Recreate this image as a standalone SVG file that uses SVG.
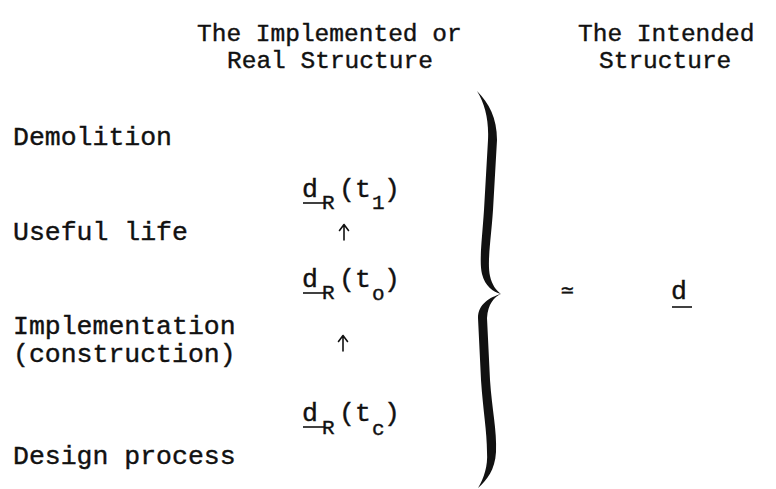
<svg xmlns="http://www.w3.org/2000/svg" width="776" height="489" viewBox="0 0 776 489">
<style>
  text { font-family: "Liberation Mono", "Courier New", monospace; fill: #111; stroke: #111; stroke-width: 0.4; }
  .head { font-size: 24.5px; }
  .body { font-size: 26.5px; }
  .sub { font-size: 21px; }
  .ul { stroke: #111; stroke-width: 1.6; fill: none; }
  .arrow { stroke: #111; stroke-width: 1.6; fill: none; stroke-linecap: round; stroke-linejoin: round; }
</style>
<rect width="776" height="489" fill="#fff"/>

<g id="heading-real">
  <text class="head" x="197" y="41">The Implemented or</text>
  <text class="head" x="227" y="68">Real Structure</text>
</g>
<g id="heading-intended">
  <text class="head" x="578" y="41">The Intended</text>
  <text class="head" x="599" y="68">Structure</text>
</g>

<g id="label-demolition"><text class="body" x="13" y="145">Demolition</text></g>
<g id="label-useful-life"><text class="body" x="13" y="240">Useful life</text></g>
<g id="label-implementation">
  <text class="body" x="13" y="334">Implementation</text>
  <text class="body" x="13" y="362">(construction)</text>
</g>
<g id="label-design"><text class="body" x="13" y="464">Design process</text></g>

<g id="node-dR-t1">
  <text class="body" x="302" y="197">d</text>
  <text class="sub" x="322" y="209">R</text>
  <text class="body" x="339" y="197">(t</text>
  <text class="sub" x="372" y="209">1</text>
  <text class="body" x="384" y="197">)</text>
  <line class="ul" x1="303" y1="203" x2="324" y2="203"/>
</g>
<g id="node-dR-to">
  <text class="body" x="302" y="287">d</text>
  <text class="sub" x="322" y="299">R</text>
  <text class="body" x="339" y="287">(t</text>
  <text class="sub" x="372" y="300">o</text>
  <text class="body" x="384" y="287">)</text>
  <line class="ul" x1="303" y1="293" x2="324" y2="293"/>
</g>
<g id="node-dR-tc">
  <text class="body" x="302" y="421">d</text>
  <text class="sub" x="322" y="434">R</text>
  <text class="body" x="339" y="421">(t</text>
  <text class="sub" x="372" y="435">c</text>
  <text class="body" x="384" y="421">)</text>
  <line class="ul" x1="303" y1="427" x2="324" y2="427"/>
</g>

<g id="connectors">
  <path class="arrow" d="M344,240 V225 M339.5,230.5 L344,224.5 L348.5,230.5"/>
  <path class="arrow" d="M343,351 V336 M338.5,341.5 L343,335.5 L347.5,341.5"/>
</g>

<g id="brace">
  <path fill="#111" d="M477,91 C489,103 497,118 497,140 L493,210 C491,240 487,262 490,276 C492,285 496,290 501,294 C493,292 485,286 482,274 C479,262 482,240 484,210 L488,140 C489,120 485,104 477,91 Z"/>
  <path fill="#111" d="M501,294 C494,297 488,304 487,318 L490,380 C492,410 497,430 496,452 C495,470 487,480 478,488 C484,478 488,466 487,452 C487,432 483,410 481,380 L478,318 C478,304 490,297 501,294 Z"/>
</g>

<g id="node-approx"><text class="sub" x="561" y="297">≃</text></g>
<g id="node-d">
  <text class="body" x="671" y="299">d</text>
  <line class="ul" x1="672" y1="307" x2="692" y2="307"/>
</g>
</svg>
